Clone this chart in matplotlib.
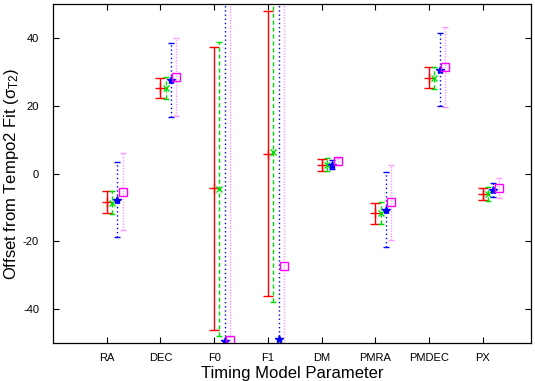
import numpy as np
import matplotlib
matplotlib.use('Agg')
import matplotlib.pyplot as plt

plt.rcParams['font.family'] = ['Liberation Sans', 'DejaVu Sans']
plt.rcParams['mathtext.fontset'] = 'custom'
plt.rcParams['mathtext.rm'] = 'Liberation Sans'
plt.rcParams['axes.unicode_minus'] = False

# timing model parameters and offsets (units of sigma_T2)
params = ['RA', 'DEC', 'F0', 'F1', 'DM', 'PMRA', 'PMDEC', 'PX']

red_val = [-8.5, 25.2, -4.4, 5.8, 2.4, -11.7, 28.2, -6.0]
red_err = [3.2, 3.0, 41.7, 42.0, 1.8, 3.1, 3.1, 1.8]

green_val = [-8.6, 25.2, -4.5, 6.2, 2.6, -11.6, 28.2, -6.0]
green_err = [3.3, 3.3, 43.4, 44.0, 2.0, 3.3, 3.3, 2.0]

blue_val = [-7.7, 27.6, -49.4, -48.8, 2.6, -10.7, 30.6, -4.8]
blue_err = [11.0, 10.8, 100.0, 100.0, 1.3, 11.0, 10.7, 2.0]

mag_val = [-5.4, 28.5, -49.0, -27.4, 3.6, -8.5, 31.3, -4.3]
mag_err = [11.4, 11.5, 100.0, 100.0, 1.0, 11.1, 11.8, 3.0]

x = np.arange(1, len(params) + 1)

fig = plt.figure(figsize=(5.35, 3.81), dpi=100)
ax = fig.add_axes([0.099, 0.0997, 0.8935, 0.8898])

series = [
    (red_val, red_err, 0.0, '#ff0000', '#ff0000', '-', '+', 'none', 7, 3.5),
    (green_val, green_err, 0.1, '#00dd00', '#00dd00', (0, (3, 2)), 'x', 'none', 5, 2.5),
    (blue_val, blue_err, 0.2, '#0000ff', '#0000ff', (0, (1, 2)), '*', '#0000ff', 6, 2.5),
    (mag_val, mag_err, 0.3, '#ff99ff', '#ff00ff', (0, (1, 1)), 's', 'none', 6, 2.5),
]

for val, err, off, ecol, mcol, ls, mk, mfc, ms, cap in series:
    _, caps, bars = ax.errorbar(x + off, val, yerr=err, fmt='none', ecolor=ecol,
                                elinewidth=1.0, capsize=cap, capthick=1.0)
    for b in bars:
        b.set_linestyle(ls)
    ax.plot(x + off, val, linestyle='none', marker=mk, color=mcol,
            markerfacecolor=mfc, markeredgecolor=mcol, markersize=ms,
            markeredgewidth=1.0)

ax.set_xlim(0, 8.9)
ax.set_ylim(-50, 50)
ax.set_xticks(x)
ax.set_xticklabels(params, fontsize=8)
ax.set_yticks([-40, -20, 0, 20, 40])
ax.tick_params(axis='y', labelsize=8)
ax.tick_params(direction='in', top=True, right=True, length=4, width=0.8)
ax.tick_params(axis='x', pad=7)
ax.tick_params(axis='y', pad=10)
for s in ax.spines.values():
    s.set_linewidth(0.9)

ax.set_xlabel('Timing Model Parameter', fontsize=12, labelpad=2)
ax.set_ylabel(r'Offset from Tempo2 Fit ($\mathregular{\sigma_{T2}}$)', fontsize=12)
ax.yaxis.set_label_coords(-0.066, 0.5)

plt.savefig('out.png', dpi=100)
